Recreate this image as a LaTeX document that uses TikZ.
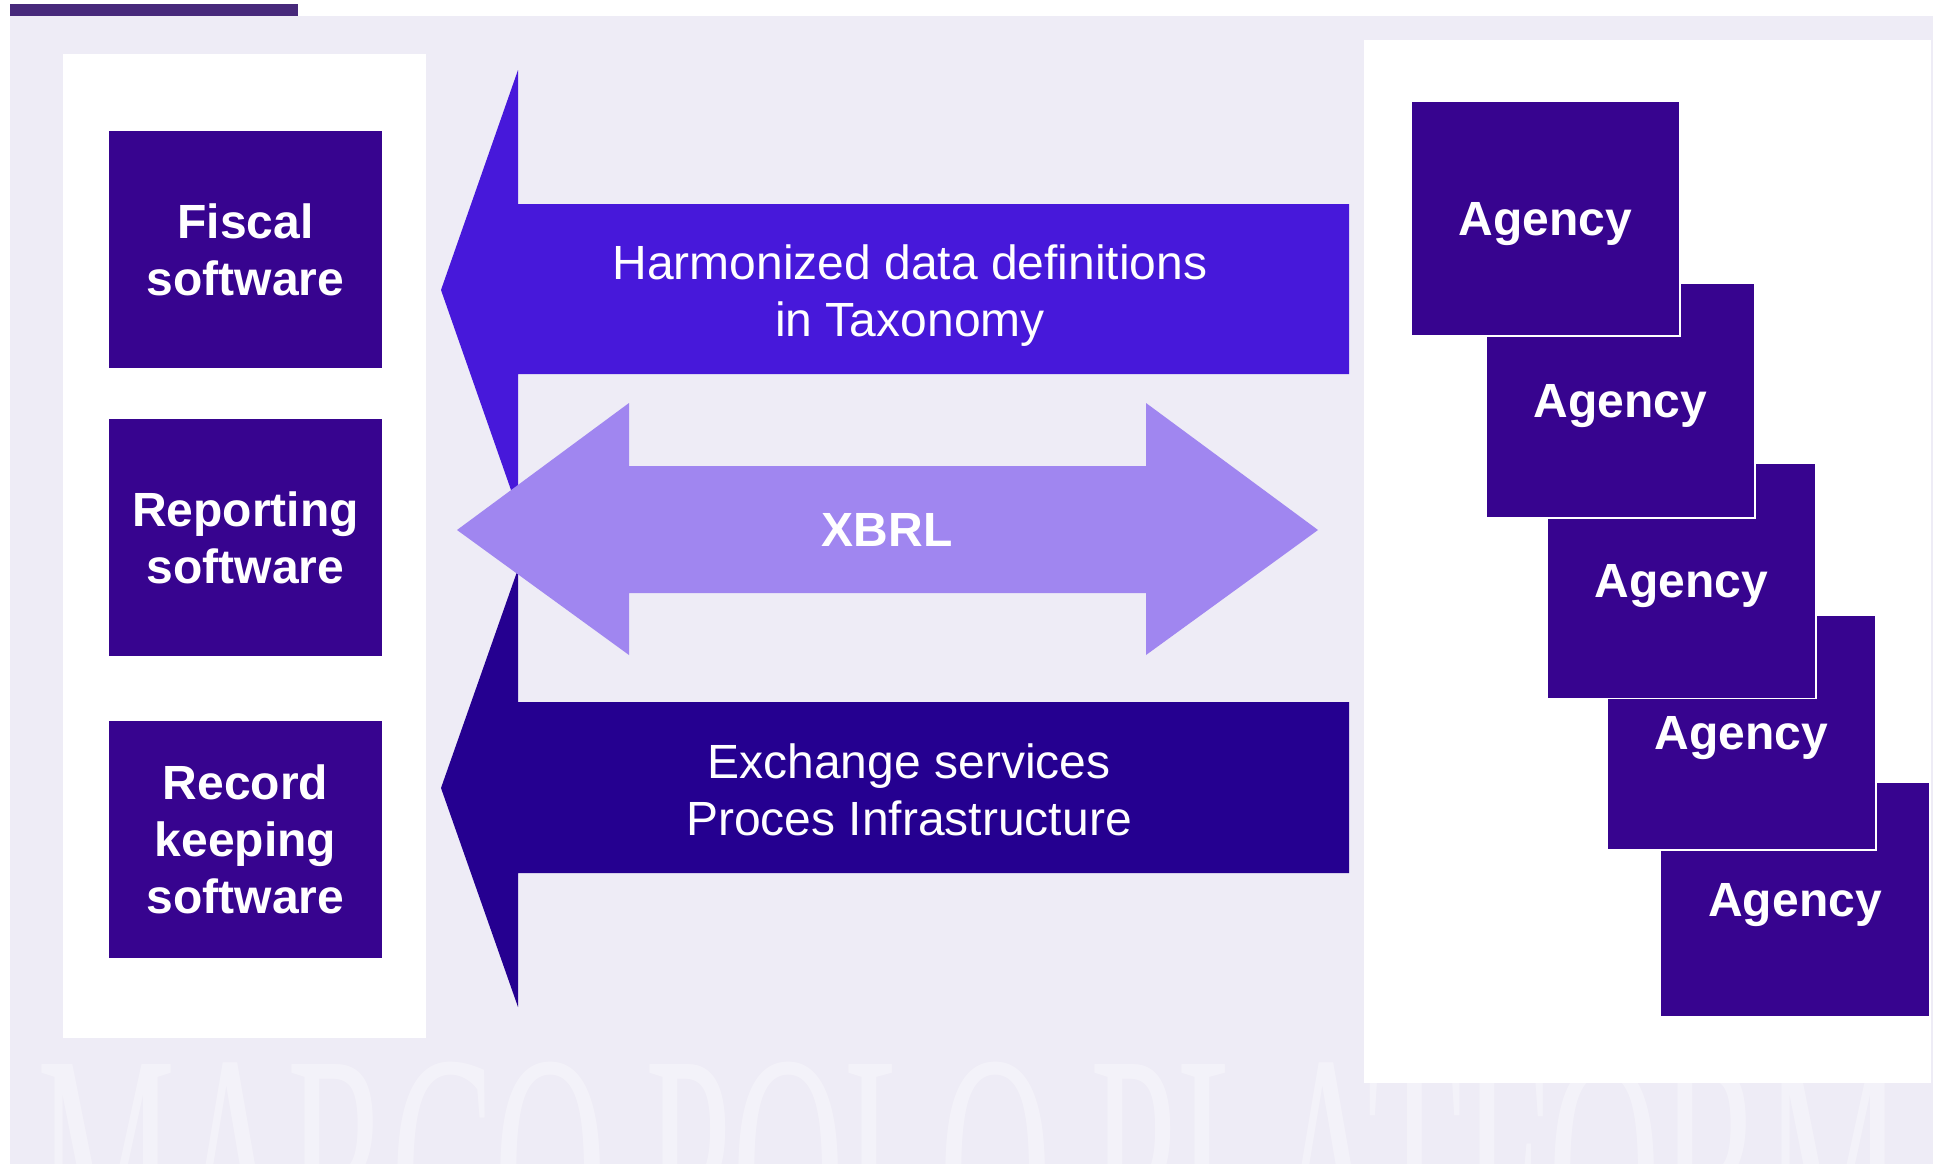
\documentclass[tikz,border=0pt]{standalone}
\usepackage{fontspec}
\setmainfont{Liberation Sans}
\newfontfamily\markfont{Liberation Serif}
\usetikzlibrary{positioning}

\definecolor{bgLavender}{HTML}{EEECF6}
\definecolor{barPurple}{HTML}{47297B}
\definecolor{boxViolet}{HTML}{37048F}
\definecolor{arrowTop}{HTML}{4718DA}
\definecolor{arrowXbrl}{HTML}{A086F0}
\definecolor{arrowBottom}{HTML}{250090}

\tikzset{
	softbox/.style = {fill = boxViolet, text = white, font = \bfseries\fontsize{48}{57}\selectfont, align = center, inner sep = 0, minimum width = 273pt, minimum height = 237pt},
	agencybox/.style = {fill = boxViolet, draw = white, line width = 1.5pt, text = white, font = \bfseries\fontsize{48}{57}\selectfont, inner sep = 0, minimum width = 269pt, minimum height = 235pt, text depth = 0pt},
	arrowtext/.style = {text = white, font = \fontsize{48}{57}\selectfont, align = center},
	panel/.style = {fill = white}
}

\begin{document}
\begin{tikzpicture}[x = 1pt, y = -1pt]
					\def\tipX{441};
					\def\headX{518};
					\def\shaftEnd{1349};
					\useasboundingbox (0,0) rectangle (1937,1164);

					\begin{scope}
						\fill [bgLavender] (10,16) rectangle (1933,1164);
						\fill [barPurple] (10,4) rectangle (298,16);
						\node (mark) [anchor = north west, inner sep = 0, text = white, text opacity = 0.35] at (37,1062) {\resizebox{1865pt}{220pt}{\markfont MARCO POLO PLATFORM}};
						\fill [panel] (63,54) rectangle (426,1038);
						\fill [panel] (1364,40) rectangle (1931,1083);
					\end{scope}

					\begin{scope}
						\node (fiscal) [softbox] at (245.5,249.5) {Fiscal\\software};
						\node (reporting) [softbox] at (245.5,537.5) {Reporting\\software};
						\node (record) [softbox] at (245.5,839) {Record\\keeping\\software};
					\end{scope}

					\begin{scope}
						\fill [arrowTop] (\tipX,290) -- (\headX,70) -- (\headX,204) -- (\shaftEnd,204) -- (\shaftEnd,374) -- (\headX,374) -- (\headX,510) -- cycle;
						\node (taxonomy) [arrowtext] at (910,296) {Harmonized data definitions\\in Taxonomy};
						\fill [arrowBottom] (\tipX,788) -- (\headX,569) -- (\headX,702) -- (\shaftEnd,702) -- (\shaftEnd,873) -- (\headX,873) -- (\headX,1007) -- cycle;
						\node (exchange) [arrowtext] at (909,790) {Exchange services\\Proces Infrastructure};
						\fill [arrowXbrl] (457,530) -- (629,403) -- (629,466) -- (1146,466) -- (1146,403) -- (1318,530) -- (1146,655) -- (1146,593) -- (629,593) -- (629,655) -- cycle;
						\node (xbrl) [arrowtext, font = \bfseries\fontsize{48}{57}\selectfont] at (887,530) {XBRL};
					\end{scope}

					\begin{scope}
						\node (agency5) [agencybox] at (1795,899.5) {Agency};
						\node (agency4) [agencybox] at (1741.5,732.5) {Agency};
						\node (agency3) [agencybox] at (1681.5,581) {Agency};
						\node (agency2) [agencybox] at (1620.5,400.5) {Agency};
						\node (agency1) [agencybox] at (1545.5,218.5) {Agency};
					\end{scope}
				\end{tikzpicture}
\end{document}
